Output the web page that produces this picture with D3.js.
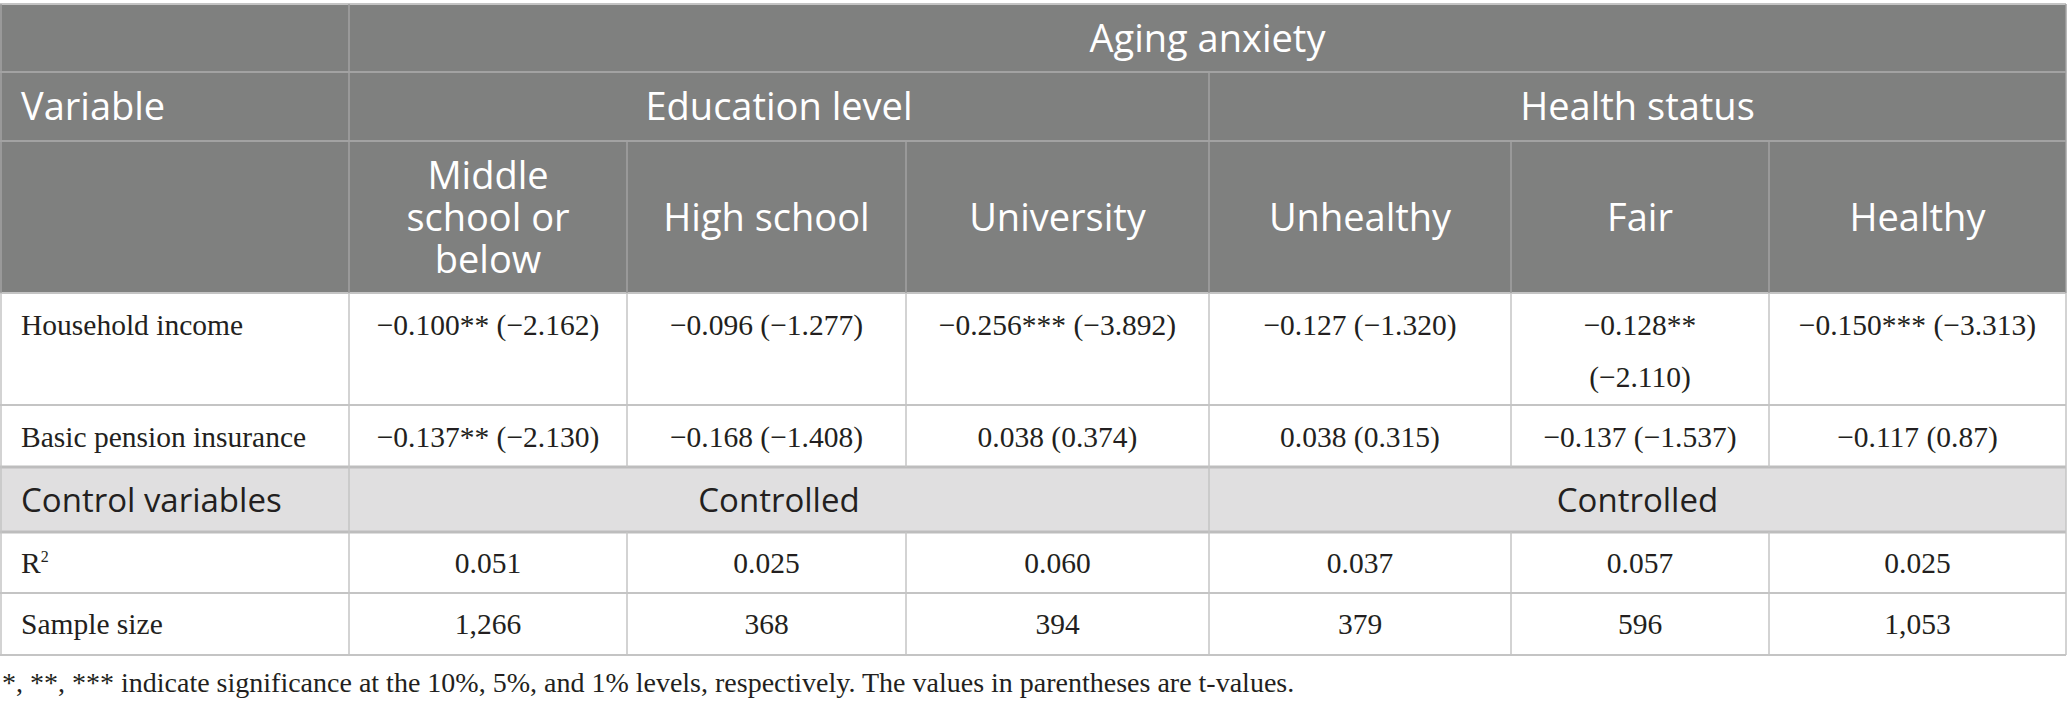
<!DOCTYPE html>
<html>
<head>
<meta charset="utf-8">
<script src="https://cdn.jsdelivr.net/npm/d3@7"></script>
<style>
  body { margin: 0; background: #fff; }
  svg { display: block; }
</style>
</head>
<body>
<div id="table"></div>
<script>
// table content
const topTitle = "Aging anxiety";
const stubTitle = "Variable";
const groups = ["Education level", "Health status"];
const subgroups = ["Middle school or below", "High school", "University", "Unhealthy", "Fair", "Healthy"];
const rowLabels = ["Household income", "Basic pension insurance", "Control variables", "R²", "Sample size"];
const householdIncome = ["−0.100** (−2.162)", "−0.096 (−1.277)", "−0.256*** (−3.892)", "−0.127 (−1.320)", "−0.128**\n(−2.110)", "−0.150*** (−3.313)"];
const pensionInsurance = ["−0.137** (−2.130)", "−0.168 (−1.408)", "0.038 (0.374)", "0.038 (0.315)", "−0.137 (−1.537)", "−0.117 (0.87)"];
const controls = ["Controlled", "Controlled"];
const rSquared = [0.051, 0.025, 0.060, 0.037, 0.057, 0.025];
const sampleSize = [1266, 368, 394, 379, 596, 1053];
const note = "*, **, *** indicate significance at the 10%, 5%, and 1% levels, respectively. The values in parentheses are t-values.";

// layout
const width = 2067, height = 709;
const colWidths = [349, 278, 279, 303, 302, 258, 297];
const rowHeights = [68, 69, 152, 112, 62, 65, 61, 62];
const tableTop = 4;

const colEdges = [0, ...d3.cumsum(colWidths)];
const rowEdges = [tableTop, ...d3.cumsum(rowHeights).map(v => v + tableTop)];

const x = d3.scaleOrdinal().domain(d3.range(colEdges.length)).range(colEdges);
const y = d3.scaleOrdinal().domain(d3.range(rowEdges.length)).range(rowEdges);

const headFont = "'Open Sans', 'Noto Sans', sans-serif";
const bodyFont = "'Liberation Serif', 'DejaVu Serif', serif";
const headBg = "#7f807f";
const headLine = "#a2a2a2";
const bodyLine = "#c4c4c4";
const ctrlBg = "#e0dfe0";
const ink = "#231f20";

const svg = d3.select("#table")
    .append("svg")
    .attr("width", width)
    .attr("height", height);

// backgrounds
svg.append("rect")
    .attr("x", 0).attr("y", y(0))
    .attr("width", x(7)).attr("height", y(3) - y(0))
    .attr("fill", headBg);

svg.append("rect")
    .attr("x", 0).attr("y", y(5))
    .attr("width", x(7)).attr("height", y(6) - y(5))
    .attr("fill", ctrlBg);

// horizontal rules
const hRules = [
    {r: 0, c: bodyLine, w: 2},
    {r: 1, c: headLine, w: 2},
    {r: 2, c: headLine, w: 2},
    {r: 3, c: bodyLine, w: 2},
    {r: 4, c: bodyLine, w: 2},
    {r: 5, c: "#bdbdbd", w: 3},
    {r: 6, c: "#bdbdbd", w: 3},
    {r: 7, c: bodyLine, w: 2},
    {r: 8, c: bodyLine, w: 2}
];
svg.selectAll(".hrule")
    .data(hRules)
    .enter()
    .append("line")
    .attr("x1", 0).attr("x2", x(7))
    .attr("y1", d => y(d.r)).attr("y2", d => y(d.r))
    .attr("stroke", d => d.c)
    .attr("stroke-width", d => d.w);

// vertical rules: column index, row spans
const vRules = [];
[0, 1, 7].forEach(c => {
    vRules.push({c: c, r0: 0, r1: 3, col: headLine});
    vRules.push({c: c, r0: 3, r1: 8, col: bodyLine});
});
vRules.push({c: 4, r0: 1, r1: 3, col: headLine});
vRules.push({c: 4, r0: 3, r1: 8, col: bodyLine});
[2, 3, 5, 6].forEach(c => {
    vRules.push({c: c, r0: 2, r1: 3, col: headLine});
    vRules.push({c: c, r0: 3, r1: 5, col: bodyLine});
    vRules.push({c: c, r0: 6, r1: 8, col: bodyLine});
});
svg.selectAll(".vrule")
    .data(vRules)
    .enter()
    .append("line")
    .attr("x1", d => Math.min(Math.max(x(d.c), 1), width - 1))
    .attr("x2", d => Math.min(Math.max(x(d.c), 1), width - 1))
    .attr("y1", d => y(d.r0)).attr("y2", d => y(d.r1))
    .attr("stroke", d => d.col)
    .attr("stroke-width", 1.5);

// wrap text into lines that fit a width
function wrapLines(text, maxW, font, size) {
    if (text.includes("\n")) return text.split("\n");
    const probe = svg.append("text").attr("font-family", font).attr("font-size", size);
    const words = text.split(" ");
    const lines = [];
    let line = words[0];
    for (let i = 1; i < words.length; i++) {
        probe.text(line + " " + words[i]);
        if (probe.node().getComputedTextLength() > maxW) {
            lines.push(line);
            line = words[i];
        } else {
            line = line + " " + words[i];
        }
    }
    lines.push(line);
    probe.remove();
    return lines;
}

function cellText(txt, cx, cy, opts) {
    const lines = wrapLines(txt, opts.maxW || 9999, opts.font, opts.size);
    const lh = opts.lh;
    const first = opts.valign == "top" ? cy : cy - (lines.length - 1) * lh / 2;
    const t = svg.append("text")
        .attr("font-family", opts.font)
        .attr("font-size", opts.size)
        .attr("font-weight", opts.weight || 400)
        .attr("fill", opts.fill)
        .attr("text-anchor", opts.anchor || "middle");
    lines.forEach((ln, i) => {
        t.append("tspan").attr("x", cx).attr("y", first + i * lh).text(ln);
    });
    return t;
}

const head = {font: headFont, size: 38, weight: 400, fill: "#fff", lh: 42};
const body = {font: bodyFont, size: 29.5, fill: ink, lh: 52};

// header rows
cellText(topTitle, (x(1) + x(7)) / 2, y(1) - 20, head);
cellText(stubTitle, 21, y(2) - 21, Object.assign({}, head, {anchor: "start"}));
groups.forEach((g, i) => {
    cellText(g, (x(1 + 3 * i) + x(4 + 3 * i)) / 2, y(2) - 21, head);
});
subgroups.forEach((s, i) => {
    cellText(s, (x(i + 1) + x(i + 2)) / 2, (y(2) + y(3)) / 2 + 14,
        Object.assign({}, head, {maxW: colWidths[i + 1] - 40}));
});

// stub labels
rowLabels.forEach((lab, i) => {
    const r = i + 3;
    if (i == 2) {
        cellText(lab, 21, (y(r) + y(r + 1)) / 2 + 12,
            Object.assign({}, head, {size: 33, weight: 400, fill: ink, anchor: "start"}));
        return;
    }
    const by = i < 2 ? y(r) + 42 : (y(r) + y(r + 1)) / 2 + 10;
    if (lab == "R²") {
        const t = svg.append("text")
            .attr("font-family", bodyFont).attr("font-size", 29.5).attr("fill", ink)
            .attr("x", 21).attr("y", by);
        t.append("tspan").text("R");
        t.append("tspan").attr("font-size", 16).attr("dy", -11).text("2");
    } else {
        cellText(lab, 21, by, Object.assign({}, body, {anchor: "start"}));
    }
});

// body values
const fmtR = d3.format(".3f");
const fmtN = d3.format(",");
const bodyRows = [
    {r: 3, vals: householdIncome, top: true},
    {r: 4, vals: pensionInsurance, top: true},
    {r: 6, vals: rSquared.map(fmtR)},
    {r: 7, vals: sampleSize.map(fmtN)}
];
bodyRows.forEach(row => {
    row.vals.forEach((v, i) => {
        const cx = (x(i + 1) + x(i + 2)) / 2;
        const by = row.top ? y(row.r) + 42 : (y(row.r) + y(row.r + 1)) / 2 + 10;
        cellText(v, cx, by, Object.assign({}, body, {valign: "top"}));
    });
});

controls.forEach((c, i) => {
    cellText(c, (x(1 + 3 * i) + x(4 + 3 * i)) / 2, (y(5) + y(6)) / 2 + 12,
        Object.assign({}, head, {size: 33, weight: 400, fill: ink}));
});

// footnote
svg.append("text")
    .attr("x", 2)
    .attr("y", y(8) + 37)
    .attr("font-family", bodyFont)
    .attr("font-size", 28)
    .attr("fill", ink)
    .text(note);
</script>
</body>
</html>
